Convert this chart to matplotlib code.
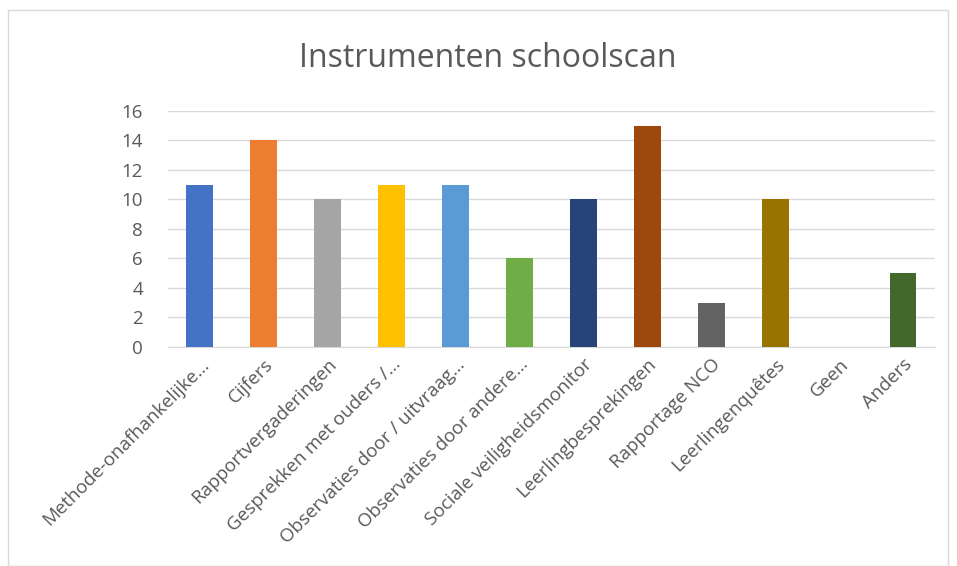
import numpy as np
import matplotlib
matplotlib.use("Agg")
import matplotlib.pyplot as plt
from matplotlib.patches import Rectangle

categories = ["Methode-onafhankelijke...", "Cijfers", "Rapportvergaderingen",
              "Gesprekken met ouders /...", "Observaties door / uitvraag...",
              "Observaties door andere...", "Sociale veiligheidsmonitor",
              "Leerlingbesprekingen", "Rapportage NCO", "Leerlingenquêtes",
              "Geen", "Anders"]
values = [11, 14, 10, 11, 11, 6, 10, 15, 3, 10, 0, 5]
colors = ["#4472C4", "#ED7D31", "#A5A5A5", "#FFC000", "#5B9BD5", "#70AD47",
          "#264478", "#9E480E", "#636363", "#997300", "#255E91", "#43682B"]
yticks = [0, 2, 4, 6, 8, 10, 12, 14, 16]

plt.rcParams['font.family'] = ['Open Sans', 'DejaVu Sans']

fig = plt.figure(figsize=(9.57, 5.66), dpi=100)
fig.patches.append(Rectangle((8/957, 0), 940/957, 1 - 10/566, transform=fig.transFigure,
                             fill=False, edgecolor="#d9d9d9", linewidth=1))
ax = fig.add_axes([0.1755, 0.387, 0.8015, 0.417])

x = np.arange(len(categories))
ax.bar(x, values, width=0.42, color=colors, zorder=3)
ax.set_xlim(-0.5, len(categories) - 0.5)
ax.set_ylim(0, 16)
ax.set_yticks(yticks)
ax.yaxis.grid(True, color="#d9d9d9", linewidth=1, zorder=0)
for s in ["top", "right", "left"]:
    ax.spines[s].set_visible(False)
ax.spines["bottom"].set_color("#d9d9d9")
ax.tick_params(axis="both", length=0, colors="#595959", labelsize=13.5)
ax.tick_params(axis="y", pad=18)
ax.tick_params(axis="x", pad=6)
ax.set_xticks(x)
ax.set_xticklabels(categories, rotation=45, ha="right", rotation_mode="anchor")

fig.text(0.51, 0.897, "Instrumenten schoolscan", ha="center", va="center",
         fontsize=23, color="#595959")

fig.savefig("out.png", dpi=100)
